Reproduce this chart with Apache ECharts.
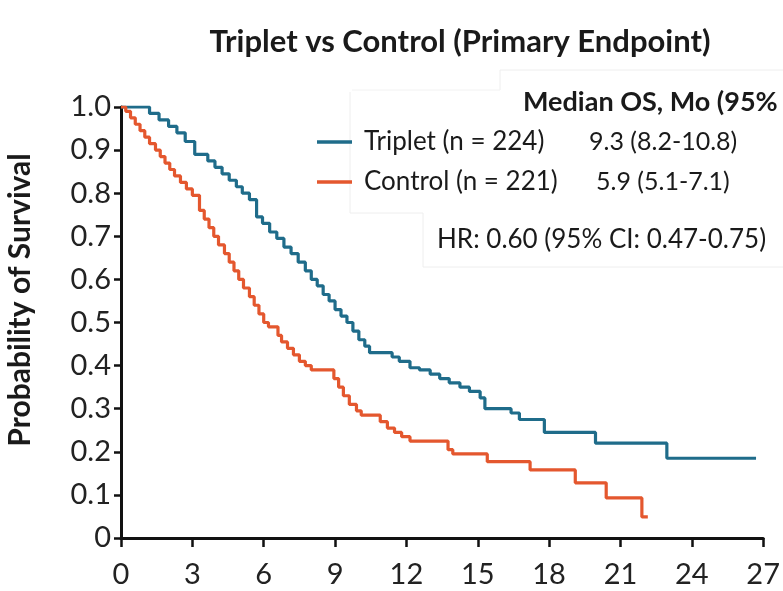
<!DOCTYPE html>
<html>
<head>
<meta charset="utf-8">
<script src="https://cdn.jsdelivr.net/npm/echarts@6/dist/echarts.min.js"></script>
<style>html,body{margin:0;padding:0;background:#fff;}#c{width:783px;height:591px;}</style>
</head>
<body>
<div id="c"></div>
<script>
var xTicks = [0,3,6,9,12,15,18,21,24,27];
var yTicks = [0,0.1,0.2,0.3,0.4,0.5,0.6,0.7,0.8,0.9,1.0];
var seriesNames = ['Triplet (n = 224)', 'Control (n = 221)'];
var medianLabels = ['9.3 (8.2-10.8)', '5.9 (5.1-7.1)'];

var triTimes = [0,1.2,1.6,2.0,2.35,2.7,3.1,3.65,3.95,4.25,4.55,4.85,5.1,5.4,5.7,5.95,6.25,6.55,6.85,7.15,7.45,7.75,8.0,8.25,8.5,8.75,9.0,9.25,9.5,9.75,10.0,10.25,10.45,11.4,11.7,12.15,12.55,13.0,13.4,13.8,14.25,14.65,15.1,15.3,16.4,16.75,17.8,19.95,22.95,26.7];
var triSurv = [1.0,0.985,0.97,0.955,0.94,0.92,0.89,0.875,0.86,0.845,0.83,0.815,0.80,0.785,0.745,0.73,0.71,0.695,0.675,0.66,0.64,0.62,0.60,0.585,0.565,0.55,0.53,0.515,0.50,0.48,0.46,0.445,0.43,0.42,0.41,0.395,0.39,0.38,0.37,0.36,0.35,0.34,0.325,0.30,0.29,0.275,0.245,0.22,0.185,0.185];

var ctlTimes = [0,0.2,0.4,0.6,0.8,1.0,1.2,1.45,1.65,1.85,2.05,2.25,2.5,2.75,3.0,3.3,3.5,3.7,3.9,4.1,4.35,4.55,4.75,4.95,5.15,5.4,5.6,5.8,6.0,6.2,6.6,6.75,7.0,7.25,7.5,7.75,8.0,8.95,9.15,9.35,9.6,9.9,10.1,10.9,11.2,11.5,11.8,12.15,13.75,13.95,15.4,17.2,19.1,20.4,21.9,22.15];
var ctlSurv = [1.0,0.99,0.975,0.96,0.945,0.93,0.915,0.90,0.885,0.87,0.855,0.84,0.825,0.81,0.795,0.76,0.74,0.72,0.70,0.68,0.66,0.64,0.62,0.60,0.58,0.56,0.54,0.52,0.50,0.49,0.47,0.455,0.44,0.425,0.41,0.40,0.39,0.37,0.35,0.33,0.31,0.295,0.285,0.27,0.255,0.245,0.235,0.225,0.205,0.195,0.177,0.158,0.128,0.093,0.049,0.049];

var colors = ['#1f6c8a', '#e4572e'];
var FONT = 'Lato, "Open Sans", sans-serif';

function pairs(t, s){ return t.map(function(v,i){ return [v, s[i]]; }); }
function txt(x, y, s, size, bold, align){
  return {type: 'text', x: x, y: y, z: 5,
    style: {text: s, fontFamily: FONT, fontWeight: bold ? 'bold' : 'normal', fontSize: size,
            fill: '#1a1a1a', textAlign: align || 'left', textVerticalAlign: 'middle'}};
}

var chart = echarts.init(document.getElementById('c'), null, {renderer:'canvas'});
var option = {
  animation: false,
  backgroundColor: '#fff',
  grid: {left: 121, right: 19, top: 107, bottom: 53, containLabel: false},
  xAxis: {
    type: 'value', min: 0, max: 27, interval: 3,
    axisLine: {show: true, onZero: false, lineStyle: {color: '#111', width: 3}},
    axisTick: {show: true, length: 9, inside: false, lineStyle: {color: '#111', width: 2.5}},
    axisLabel: {fontFamily: FONT, fontSize: 29, color: '#222', margin: 22,
      formatter: function(v){ return xTicks.indexOf(v) >= 0 ? String(v) : ''; }},
    splitLine: {show: false}
  },
  yAxis: {
    type: 'value', min: 0, max: 1, interval: 0.1,
    axisLine: {show: true, onZero: false, lineStyle: {color: '#111', width: 3}},
    axisTick: {show: true, length: 7, lineStyle: {color: '#111', width: 2.5}},
    axisLabel: {fontFamily: FONT, fontSize: 29, color: '#222', margin: 10,
      formatter: function(v){
        var r = Math.round(v*10)/10;
        if (yTicks.indexOf(r) < 0) return '';
        return r === 0 ? '0' : r.toFixed(1);
      }},
    splitLine: {show: false}
  },
  series: [
    {name: seriesNames[0], type: 'line', step: 'end', showSymbol: false, data: pairs(triTimes, triSurv),
     lineStyle: {color: colors[0], width: 3.2}, itemStyle: {color: colors[0]}, z: 3},
    {name: seriesNames[1], type: 'line', step: 'end', showSymbol: false, data: pairs(ctlTimes, ctlSurv),
     lineStyle: {color: colors[1], width: 3.2}, itemStyle: {color: colors[1]}, z: 3}
  ],
  graphic: [
    {type: 'polyline', shape: {points: [[500,90],[500,70],[783,70]]}, style: {stroke: '#eeeeee', lineWidth: 1, fill: null}, z: 1},
    {type: 'polyline', shape: {points: [[352,90],[500,90]]}, style: {stroke: '#f2f2f2', lineWidth: 1, fill: null}, z: 1},
    {type: 'polyline', shape: {points: [[350,92],[350,213],[423,213],[423,267],[783,267]]}, style: {stroke: '#eeeeee', lineWidth: 1, fill: null}, z: 1},
    txt(460, 42, 'Triplet vs Control (Primary Endpoint)', 31, true, 'center'),
    {type: 'text', x: 20, y: 300, rotation: Math.PI/2, z: 5,
     style: {text: 'Probability of Survival', fontFamily: FONT, fontWeight: 'bold', fontSize: 30,
             fill: '#1a1a1a', textAlign: 'center', textVerticalAlign: 'middle'}},
    txt(523, 102, 'Median OS, Mo (95%', 27, true),
    {type: 'line', shape: {x1: 317, y1: 142, x2: 352, y2: 142}, style: {stroke: colors[0], lineWidth: 3.5}, z: 5},
    {type: 'line', shape: {x1: 317, y1: 182, x2: 352, y2: 182}, style: {stroke: colors[1], lineWidth: 3.5}, z: 5},
    txt(364, 142, seriesNames[0], 26),
    txt(364, 182, seriesNames[1], 26),
    txt(589, 142, medianLabels[0], 25),
    txt(596, 182, medianLabels[1], 25),
    txt(437, 240, 'HR: 0.60 (95% CI: 0.47-0.75)', 26)
  ]
};
chart.setOption(option);
</script>
</body>
</html>
